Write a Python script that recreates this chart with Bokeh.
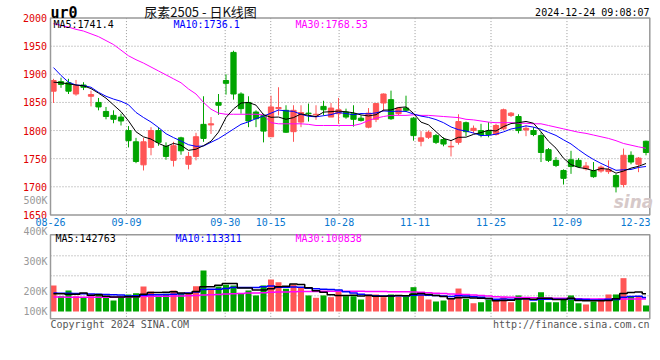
from bokeh.plotting import figure
from bokeh.models import Range1d, ColumnDataSource
from bokeh.core.properties import value
from bokeh.embed import file_html
from bokeh.resources import INLINE

# ---------------- data ----------------
tick_dates = ["08-26", "09-09", "09-30", "10-15", "10-28", "11-11", "11-25", "12-09", "12-23"]
tick_index = [0, 10, 23, 29, 38, 48, 58, 68, 78]
price_ticks = [2000, 1950, 1900, 1850, 1800, 1750, 1700, 1650]
vol_tick_labels = ["500K", "400K", "300K", "200K", "100K"]

open_ = [1870, 1887, 1885, 1865, 1881, 1861, 1850, 1834, 1827, 1824,
         1800, 1780, 1739, 1770, 1800, 1772, 1747, 1787, 1740, 1754,
         1811, 1810, 1850, 1889, 1939, 1865, 1850, 1833, 1827, 1789,
         1839, 1836, 1798, 1815, 1831, 1828, 1843, 1824, 1830, 1833,
         1830, 1822, 1806, 1820, 1849, 1855, 1830, 1840, 1822, 1781,
         1788, 1791, 1784, 1771, 1779, 1814, 1800, 1800, 1799, 1793,
         1803, 1827, 1825, 1801, 1800, 1791, 1766, 1747, 1729, 1748,
         1747, 1732, 1729, 1728, 1727, 1720, 1704, 1756, 1740, 1781]
high = [1892, 1894, 1892, 1890, 1886, 1871, 1858, 1842, 1836, 1830,
        1808, 1787, 1787, 1806, 1806, 1779, 1780, 1789, 1762, 1796,
        1861, 1824, 1865, 1900, 1942, 1868, 1861, 1836, 1830, 1862,
        1877, 1845, 1845, 1845, 1848, 1845, 1853, 1849, 1858, 1839,
        1845, 1827, 1840, 1849, 1866, 1871, 1842, 1862, 1824, 1799,
        1800, 1794, 1788, 1782, 1829, 1816, 1809, 1812, 1815, 1812,
        1839, 1833, 1829, 1809, 1806, 1797, 1769, 1753, 1731, 1764,
        1751, 1744, 1744, 1738, 1747, 1723, 1768, 1763, 1753, 1782]
low = [1849, 1876, 1865, 1862, 1872, 1843, 1836, 1820, 1813, 1809,
       1770, 1742, 1729, 1756, 1773, 1748, 1736, 1757, 1731, 1747,
       1780, 1794, 1828, 1864, 1855, 1830, 1806, 1806, 1779, 1789,
       1827, 1796, 1780, 1806, 1816, 1819, 1827, 1824, 1812, 1821,
       1807, 1816, 1804, 1815, 1834, 1819, 1827, 1833, 1782, 1772,
       1785, 1776, 1772, 1754, 1775, 1790, 1795, 1788, 1788, 1791,
       1801, 1824, 1795, 1790, 1790, 1744, 1744, 1735, 1704, 1723,
       1734, 1729, 1716, 1725, 1723, 1690, 1699, 1740, 1726, 1756]
close = [1889, 1882, 1870, 1880, 1877, 1864, 1842, 1825, 1820, 1817,
         1782, 1745, 1780, 1800, 1779, 1754, 1773, 1764, 1754, 1789,
         1786, 1812, 1845, 1884, 1865, 1839, 1817, 1821, 1799, 1842,
         1841, 1797, 1836, 1832, 1830, 1829, 1837, 1840, 1837, 1824,
         1820, 1818, 1831, 1848, 1865, 1821, 1840, 1836, 1791, 1787,
         1797, 1779, 1776, 1772, 1816, 1798, 1804, 1792, 1793, 1809,
         1837, 1831, 1800, 1804, 1793, 1761, 1747, 1738, 1715, 1736,
         1736, 1737, 1718, 1735, 1731, 1700, 1756, 1744, 1751, 1761]
volume = [211000, 124000, 170000, 124000, 116000, 124000, 143000, 111000, 89000, 116000,
          138000, 148000, 203000, 162000, 122000, 143000, 170000, 148000, 143000, 205000,
          332000, 176000, 203000, 216000, 211000, 148000, 170000, 130000, 211000, 259000,
          237000, 184000, 219000, 192000, 130000, 111000, 130000, 116000, 162000, 124000,
          124000, 97000, 138000, 138000, 116000, 138000, 122000, 122000, 197000, 148000,
          97000, 81000, 89000, 103000, 186000, 103000, 67000, 75000, 97000, 89000,
          116000, 75000, 130000, 103000, 75000, 156000, 75000, 75000, 103000, 130000,
          67000, 57000, 81000, 105000, 138000, 138000, 270000, 122000, 122000, 49000]

ma5 = [1886, 1885, 1883, 1881, 1879.6, 1874.6, 1866.6, 1857.6, 1845.6, 1833.6,
       1817.2, 1797.8, 1788.8, 1784.8, 1777.2, 1771.6, 1777.2, 1774.0, 1764.8, 1766.8,
       1773.2, 1781.0, 1797.2, 1823.2, 1838.4, 1849.0, 1850.0, 1845.2, 1828.2, 1823.6,
       1824.0, 1820.0, 1823.0, 1829.6, 1827.2, 1824.8, 1832.8, 1833.6, 1834.6, 1833.4,
       1831.6, 1827.8, 1826.0, 1828.2, 1836.4, 1836.6, 1841.0, 1842.0, 1830.6, 1815.0,
       1810.2, 1798.0, 1786.0, 1782.2, 1788.0, 1788.2, 1793.2, 1796.4, 1800.6, 1799.2,
       1807.0, 1812.4, 1814.0, 1816.2, 1813.0, 1797.8, 1781.0, 1768.6, 1750.8, 1739.4,
       1734.4, 1732.4, 1728.4, 1732.4, 1731.4, 1724.2, 1728.0, 1733.2, 1736.4, 1741.4]
ma10 = [1912, 1898, 1886, 1881, 1880, 1877, 1868, 1861, 1856, 1852,
        1845.9, 1832.2, 1823.2, 1815.2, 1805.4, 1794.4, 1787.5, 1781.4, 1774.8, 1772.0,
        1772.4, 1779.1, 1785.6, 1794.0, 1802.6, 1811.1, 1815.5, 1821.2, 1825.7, 1831.0,
        1836.5, 1835.0, 1834.1, 1828.9, 1825.4, 1824.4, 1826.4, 1828.3, 1832.1, 1830.3,
        1828.2, 1830.3, 1829.8, 1831.4, 1834.9, 1834.1, 1834.4, 1834.0, 1829.4, 1825.7,
        1823.4, 1819.5, 1814.0, 1806.4, 1801.5, 1799.2, 1795.6, 1791.2, 1791.4, 1793.6,
        1797.6, 1802.8, 1805.2, 1808.4, 1806.1, 1802.4, 1796.7, 1791.3, 1783.5, 1776.2,
        1766.1, 1756.7, 1748.5, 1741.6, 1735.4, 1729.3, 1730.2, 1730.8, 1734.4, 1736.1]
ma30 = [1990, 1987, 1984, 1980, 1977, 1972, 1967, 1960, 1953, 1943,
        1933, 1926, 1920, 1913, 1906, 1899, 1892, 1885, 1874, 1865,
        1850, 1838, 1831, 1829, 1829, 1829, 1829, 1829, 1828, 1814,
        1812, 1812, 1812, 1812, 1811, 1809, 1809, 1809, 1809, 1809,
        1809, 1812, 1818, 1822, 1825, 1827, 1827, 1827, 1828, 1827,
        1827, 1826, 1825, 1824, 1823, 1820, 1819, 1817, 1815, 1814,
        1814, 1814, 1813, 1813, 1812, 1812, 1809, 1806, 1803, 1800,
        1797, 1795, 1792, 1789, 1786, 1782, 1777, 1774, 1771, 1768.53]

vma5 = [143000, 143000, 140000, 140000, 149000, 131600, 135400, 123600, 116600, 116600,
        119400, 120400, 138800, 153400, 154600, 155600, 160000, 149000, 145200, 161800,
        199600, 200800, 211800, 226400, 227600, 190800, 189600, 175000, 174000, 183600,
        201400, 204200, 222000, 218200, 192400, 167200, 156400, 135800, 129800, 128600,
        131200, 124600, 129000, 124200, 122600, 125400, 130400, 127200, 139000, 145400,
        137200, 129000, 122400, 103600, 111200, 112400, 109600, 106800, 105600, 86200,
        88800, 90400, 101400, 102600, 99800, 107800, 107800, 96800, 96800, 107800,
        90000, 86400, 87600, 88000, 89600, 103800, 146400, 154600, 158000, 142763]
vma10 = [150000, 148000, 147000, 146000, 144000, 142000, 140000, 137000, 135000, 132800,
         125500, 127900, 131200, 135000, 135600, 137500, 140200, 143900, 149300, 158200,
         177600, 180400, 180400, 185800, 194700, 195200, 195200, 193400, 200200, 205600,
         196100, 196900, 198500, 196100, 188000, 184300, 180300, 178900, 174000, 160500,
         149200, 140500, 132400, 127000, 125600, 128300, 127500, 128100, 131600, 134000,
         131300, 129700, 124800, 121300, 128300, 124800, 119300, 114600, 104600, 98700,
         100600, 100000, 104100, 104100, 93000, 98300, 99100, 99100, 99700, 103800,
         98900, 97100, 92200, 92400, 98700, 96900, 116400, 121100, 123000, 113311]
vma30 = [117000, 117000, 116000, 116000, 116000, 116000, 116000, 116000, 116000, 117000,
         118000, 120000, 122000, 123000, 124000, 124000, 125000, 126000, 127000, 129000,
         134000, 136000, 138000, 141000, 144000, 146000, 149000, 150000, 152000, 155000,
         157000, 158000, 160000, 162000, 163000, 163000, 164000, 164000, 165000, 165000,
         165000, 164000, 163000, 162000, 161000, 160000, 160000, 159000, 158000, 156000,
         151000, 148000, 146000, 141000, 139000, 137000, 134000, 130000, 126000, 119000,
         117000, 115000, 114000, 113000, 111000, 110000, 109000, 108000, 107000, 106000,
         103000, 102000, 101000, 101000, 100000, 100000, 101000, 101000, 101000, 100838]

# ---------------- layout (reference pixel geometry) ----------------
W, H = 660, 360
PX_L, PX_R = 0, 660          # reference-pixel x span of the canvas
PY_T, PY_B = 0, 360          # reference-pixel y span of the canvas
PANEL_L, PANEL_R = 50, 649.3
MAIN_TOP_PX, MAIN_BOT_PX = 17.6, 214.4
P_HI, P_LO = 2000, 1650
VOL_TOP_PX, VOL_BOT_PX, VOL_BASE_PX = 234.3, 318.3, 311
VOL_PER_PX = 8100
CANDLE0_X, PITCH = 53, 7.5
GRID0_X, GRID_PITCH = 50, 600 / 79
vol_label_y = [200, 230.7, 260.7, 290.7, 310.7]
vol_grid_y = [255.3, 275.3, 295.3]

ppu = (MAIN_BOT_PX - MAIN_TOP_PX) / (P_HI - P_LO)
price_range = Range1d(P_LO - (PY_B - MAIN_BOT_PX) / ppu, P_LO + (MAIN_BOT_PX - PY_T) / ppu)
idx_range = Range1d((PX_L - CANDLE0_X) / PITCH, (PX_R - CANDLE0_X) / PITCH)

RED, GREEN = "#ff5656", "#00a400"
MONO = value("DejaVu Sans Mono")

n = len(close)
idx = list(range(n))
colors = [RED if c >= o else GREEN for o, c in zip(open_, close)]
src = ColumnDataSource(dict(
    i=idx, o=open_, h=high, l=low, c=close,
    top=[max(o, c) for o, c in zip(open_, close)],
    bot=[min(o, c) for o, c in zip(open_, close)],
    vol=volume, color=colors))

p = figure(width=W, height=H, x_range=idx_range, y_range=price_range,
           x_axis_type=None, y_axis_type=None, toolbar_location=None,
           output_backend="svg", min_border=0, outline_line_color=None,
           background_fill_color="white", border_fill_color="white")
p.extra_x_ranges = {
    "px": Range1d(PX_L, PX_R),
    "grid": Range1d((PX_L - GRID0_X) / GRID_PITCH, (PX_R - GRID0_X) / GRID_PITCH),
}
p.extra_y_ranges = {
    "px": Range1d(PY_B, PY_T),
    "vol": Range1d(-(PY_B - VOL_BASE_PX) * VOL_PER_PX, (VOL_BASE_PX - PY_T) * VOL_PER_PX),
}

GRID_KW = dict(line_color="#9a9a9a", line_width=1, line_dash="1 2")
inner_idx = tick_index[1:-1]

# main panel grid
p.segment(x0=PANEL_L, x1=PANEL_R, y0=price_ticks[1:-1], y1=price_ticks[1:-1],
          x_range_name="px", **GRID_KW)
p.segment(x0=inner_idx, x1=inner_idx, y0=P_HI, y1=P_LO, x_range_name="grid", **GRID_KW)
# volume panel grid
p.segment(x0=PANEL_L, x1=PANEL_R, y0=vol_grid_y, y1=vol_grid_y,
          x_range_name="px", y_range_name="px", **GRID_KW)
p.segment(x0=inner_idx, x1=inner_idx, y0=VOL_TOP_PX, y1=VOL_BOT_PX,
          x_range_name="grid", y_range_name="px", **GRID_KW)

# candles
p.segment(x0="i", x1="i", y0="l", y1="h", line_color="color", line_width=1, source=src)
p.vbar(x="i", width=0.7, top="top", bottom="bot", fill_color="color",
       line_color="color", line_width=1, source=src)

# price moving averages
p.line(idx, ma30, line_color="#ff00ff", line_width=1)
p.line(idx, ma10, line_color="#0000ff", line_width=1)
p.line(idx, ma5, line_color="#000000", line_width=1)

# volume bars + averages
p.vbar(x="i", width=0.8, top="vol", bottom=0, fill_color="color", line_color=None,
       y_range_name="vol", source=src)
p.step(idx, vma30, mode="center", line_color="#ff00ff", line_width=1.5, y_range_name="vol")
p.step(idx, vma10, mode="center", line_color="#0000ff", line_width=1.5, y_range_name="vol")
p.step(idx, vma5, mode="center", line_color="#000000", line_width=1.5, y_range_name="vol")

# panel borders
p.quad(left=PANEL_L, right=PANEL_R, top=P_HI, bottom=P_LO, x_range_name="px",
       fill_color=None, line_color="#999999", line_width=1.5)
p.quad(left=PANEL_L, right=PANEL_R, top=VOL_TOP_PX, bottom=VOL_BOT_PX,
       x_range_name="px", y_range_name="px",
       fill_color=None, line_color="#999999", line_width=1.5)

# price axis labels
p.text(x=46.5, y=price_ticks, text=[str(t) for t in price_ticks], x_range_name="px",
       text_font=MONO, text_font_size="10px", text_color="#e00000",
       text_align="right", text_baseline="middle")
# volume axis labels
p.text(x=47, y=vol_label_y, text=vol_tick_labels, x_range_name="px", y_range_name="px",
       text_font=MONO, text_font_size="10px", text_color="#999999",
       text_align="right", text_baseline="middle")
# date labels
p.text(x=tick_index[:-1], y=221.7, text=tick_dates[:-1], x_range_name="grid",
       y_range_name="px", text_font=MONO, text_font_size="10px", text_color="#0a78d0",
       text_align="center", text_baseline="middle")
p.text(x=[PANEL_R + 0.7], y=221.7, text=tick_dates[-1:], x_range_name="px",
       y_range_name="px", text_font=MONO, text_font_size="10px", text_color="#0a78d0",
       text_align="right", text_baseline="middle")


def label(x, y, s, color, size="10px", font=MONO, align="left", style="normal"):
    p.text(x=[x], y=[y], text=[s], x_range_name="px", y_range_name="px",
           text_font=font, text_font_size=size, text_color=color,
           text_align=align, text_baseline="middle", text_font_style=style)


def fmt(v):
    return ("%.2f" % v).rstrip("0").rstrip(".") if isinstance(v, float) else str(v)


# header
label(50, 12, "ur0", "#000000", size="15px", style="bold")
label(200, 10.5, "尿素2505 - 日K线图", "#111111", size="13px",
      font=value("Noto Sans CJK SC"), align="center")
label(649, 12, "2024-12-24 09:08:07", "#000000", align="right")

# MA legends
label(53, 24, "MA5:" + fmt(ma5[-1]), "#000000")
label(173, 24, "MA10:" + fmt(ma10[-1]), "#0000ff")
label(295, 24, "MA30:" + fmt(ma30[-1]), "#ff00ff")
label(55, 238, "MA5:" + fmt(vma5[-1]), "#000000")
label(175, 238, "MA10:" + fmt(vma10[-1]), "#0000ff")
label(295, 238, "MA30:" + fmt(vma30[-1]), "#ff00ff")

# watermark + footer
label(633, 201, "sina", "#d6c9c9", size="17px", font=value("DejaVu Sans"),
      align="center", style="bold italic")
label(50, 323.5, "Copyright 2024 SINA.COM", "#555555")
label(649, 324, "http://finance.sina.com.cn", "#555555", align="right")

open("out.html", "w").write(file_html(p, INLINE))
